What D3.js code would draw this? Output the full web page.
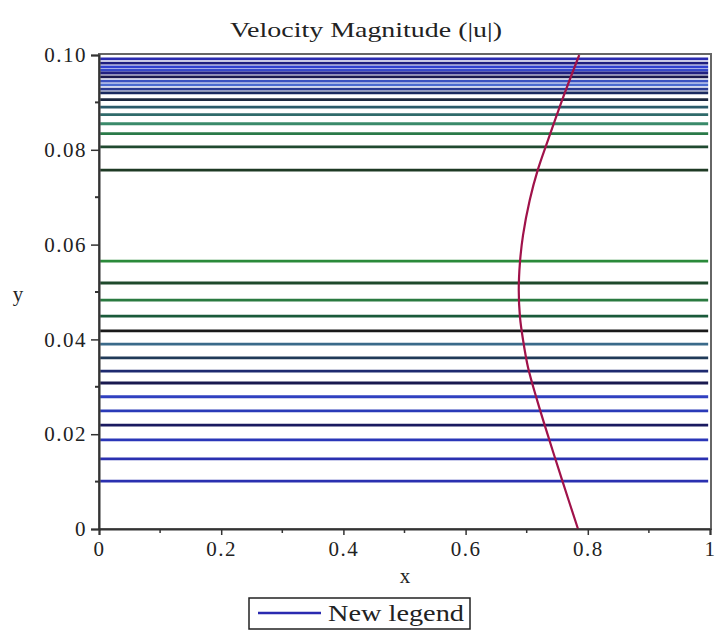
<!DOCTYPE html>
<html>
<head>
<meta charset="utf-8">
<script src="https://cdn.jsdelivr.net/npm/d3@7"></script>
<style>
  body { margin: 0; background: #fff; }
  text { font-family: "Liberation Serif", "Times New Roman", Times, serif; fill: #222; }
</style>
</head>
<body>
<script>
// contour levels (y positions of the horizontal lines) and their colours
var levelY = [0.0992, 0.0983, 0.0975, 0.0968, 0.0962, 0.0954, 0.0945, 0.0937, 0.0928, 0.0920,
              0.0906, 0.0890, 0.0874, 0.0855, 0.0834, 0.0806, 0.0757,
              0.0565, 0.0519, 0.0483, 0.0449, 0.0418, 0.0390, 0.0361, 0.0333, 0.0308,
              0.0279, 0.0249, 0.0219, 0.0188, 0.0148, 0.0101]
var levelColor = ["#2b2bb0", "#1e1e80", "#3040d0", "#3548c8", "#202080", "#1a1a50", "#3a50c0", "#4a6ad0", "#2a3a90", "#1a2a60",
                  "#1c2840", "#2a5a6a", "#2f6a6a", "#3a8a6a", "#2a7a48", "#204a30", "#1e3a24",
                  "#2a8a3a", "#1f4a2c", "#2a7a40", "#1a5a3a", "#1a1a1a", "#3a6a8a", "#203a58", "#1e2a70", "#1a1a50",
                  "#3040c0", "#2a3ab8", "#1a1a60", "#2a36b8", "#2a30b0", "#2a30b0"]

// the velocity profile curve
var curveY = [0, 0.0103, 0.0188, 0.0272, 0.0342, 0.0399, 0.0447, 0.0504, 0.0563, 0.0620, 0.0694, 0.0757, 0.0821, 0.0905, 0.1]
var curveX = [0.784, 0.758, 0.737, 0.717, 0.702, 0.694, 0.689, 0.687, 0.689, 0.694, 0.705, 0.718, 0.735, 0.758, 0.786]

var yTicks = [0, 0.02, 0.04, 0.06, 0.08, 0.10]
var yTickLabels = ["0", "0.02", "0.04", "0.06", "0.08", "0.10"]
var xTicks = [0, 0.2, 0.4, 0.6, 0.8, 1]
var xTickLabels = ["0", "0.2", "0.4", "0.6", "0.8", "1"]

var width = 720, height = 630
var svg = d3.select("body").append("svg")
    .attr("width", width)
    .attr("height", height)

var x = d3.scaleLinear().domain([0, 1]).range([99, 710])
var y = d3.scaleLinear().domain([0, 0.1]).range([529, 55])

// title
svg.append("text")
    .attr("x", 366).attr("y", 37)
    .attr("text-anchor", "middle")
    .attr("font-size", 22)
    .attr("textLength", 272).attr("lengthAdjust", "spacingAndGlyphs")
    .text("Velocity Magnitude (|u|)")

// frame
svg.append("rect")
    .attr("x", x(0)).attr("y", y(0.1) - 1)
    .attr("width", x(1) - x(0) + 1).attr("height", y(0) - y(0.1) + 1)
    .attr("fill", "none").attr("stroke", "#666").attr("stroke-width", 2)

// horizontal contour lines
var g = svg.append("g")
g.selectAll("line.level")
    .data(levelY)
    .enter()
    .append("line")
    .attr("class", "level")
    .attr("x1", x(0.002))
    .attr("x2", x(0.997))
    .attr("y1", d => y(d))
    .attr("y2", d => y(d))
    .attr("stroke", (d, i) => levelColor[i])
    .style("stroke-width", "2.8px")

// profile curve
var pts = curveY.map((d, i) => [curveX[i], d])
g.append("path")
    .datum(pts)
    .attr("d", d3.line().x(d => x(d[0])).y(d => y(d[1])).curve(d3.curveCatmullRom))
    .attr("fill", "none")
    .attr("stroke", "#a0124a")
    .style("stroke-width", "2.2px")

// axes
var yAxis = d3.axisLeft(y).tickValues(yTicks)
    .tickFormat((d, i) => yTickLabels[i]).tickSize(8).tickPadding(4)
var ya = svg.append("g").attr("transform", `translate(${x(0)},0)`).call(yAxis)
ya.select(".domain").attr("stroke", "#333").attr("stroke-width", 2)
ya.selectAll(".tick line").attr("stroke", "#333").attr("stroke-width", 1.5)
ya.selectAll(".tick text").attr("font-size", 21)
    .attr("letter-spacing", 1.5).attr("fill", "#222")

var xAxis = d3.axisBottom(x).tickValues(xTicks)
    .tickFormat((d, i) => xTickLabels[i]).tickSize(6).tickPadding(6)
var xa = svg.append("g").attr("transform", `translate(0,${y(0)})`).call(xAxis)
xa.select(".domain").attr("stroke", "#333").attr("stroke-width", 2)
xa.selectAll(".tick line").attr("stroke", "#333").attr("stroke-width", 1.5)
xa.selectAll(".tick text").attr("font-size", 21)
    .attr("letter-spacing", 1.5).attr("fill", "#222")

// minor ticks
var minorY = [0.01, 0.03, 0.05, 0.07, 0.09]
svg.selectAll("line.minory").data(minorY).enter().append("line")
    .attr("x1", x(0) - 4).attr("x2", x(0))
    .attr("y1", d => y(d)).attr("y2", d => y(d))
    .attr("stroke", "#333").attr("stroke-width", 2)
var minorX = [0.1, 0.3, 0.5, 0.7, 0.9]
svg.selectAll("line.minorx").data(minorX).enter().append("line")
    .attr("x1", d => x(d)).attr("x2", d => x(d))
    .attr("y1", y(0)).attr("y2", y(0) + 4)
    .attr("stroke", "#333").attr("stroke-width", 1.5)

// axis labels
svg.append("text").attr("x", 405).attr("y", 583)
    .attr("text-anchor", "middle").attr("font-size", 21).text("x")
svg.append("text").attr("x", 18).attr("y", 301)
    .attr("text-anchor", "middle").attr("font-size", 21).text("y")

// legend
var lg = svg.append("g")
lg.append("rect").attr("x", 249).attr("y", 598).attr("width", 221).attr("height", 31)
    .attr("fill", "#fff").attr("stroke", "#222").attr("stroke-width", 1.5)
lg.append("line").attr("x1", 258).attr("x2", 321).attr("y1", 613).attr("y2", 613)
    .attr("stroke", "#2a2ab0").attr("stroke-width", 2.5)
lg.append("text").attr("x", 328).attr("y", 621).attr("font-size", 23)
    .attr("textLength", 136).attr("lengthAdjust", "spacingAndGlyphs")
    .text("New legend")
</script>
</body>
</html>
